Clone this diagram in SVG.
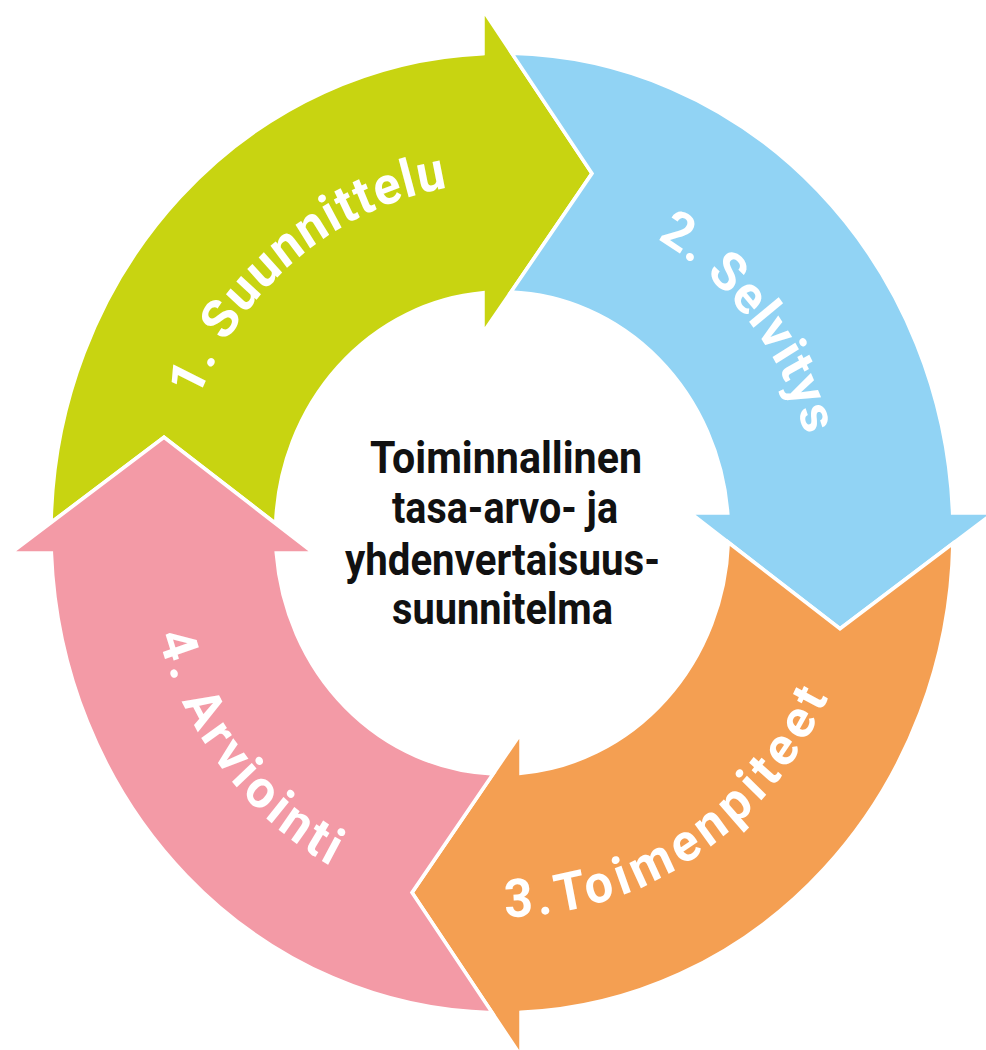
<svg xmlns="http://www.w3.org/2000/svg" xmlns:xlink="http://www.w3.org/1999/xlink" width="986" height="1050" viewBox="0 0 986 1050">
<style>
.arrow{stroke:#ffffff;stroke-width:3.5;stroke-linejoin:miter}
.lbl{font-family:Roboto,"Liberation Sans",sans-serif;font-weight:700;font-size:50px;fill:#ffffff}
.ctr{font-family:Roboto,"Liberation Sans",sans-serif;font-weight:700;font-size:42px;fill:#111111;text-anchor:middle}
</style>
<defs>
<path id="shape" d="M -450.9 -9.8 A 451 451 0 0 1 -19 -450.6 L -19 -491.5 L 90 -338 L -19 -188 L -19 -225.7 A 226.5 226.5 0 0 0 -226.3 -8.85 L -338 -90 Z"/>
<path id="p1" d="M -304.2 -125.4 A 329 329 0 0 1 85.1 -317.8"/>
<path id="p2" d="M 155.1 -276.5 A 317 317 0 0 1 317 0"/>
<path id="p3" d="M 3.2 361 A 361 361 0 0 0 355.5 62.7"/>
<path id="p4" d="M -343.8 96.3 A 357 357 0 0 0 -62 351.6"/>
</defs>
<rect width="986" height="1050" fill="#ffffff"/>
<g id="connectors"/>
<g transform="translate(502,533) scale(1,1.064)">
<g id="step1">
<use xlink:href="#shape" href="#shape" class="arrow" fill="#C8D411"/>
<text class="lbl" letter-spacing="1.5"><textPath xlink:href="#p1" href="#p1">1. Suunnittelu</textPath></text>
</g>
<g id="step2">
<use xlink:href="#shape" href="#shape" class="arrow" fill="#91D3F4" transform="rotate(90)"/>
<text class="lbl" letter-spacing="1"><textPath xlink:href="#p2" href="#p2">2. Selvitys</textPath></text>
</g>
<g id="step3">
<use xlink:href="#shape" href="#shape" class="arrow" fill="#F49F52" transform="rotate(180)"/>
<text class="lbl" letter-spacing="5"><textPath xlink:href="#p3" href="#p3">3.Toimenpiteet</textPath></text>
</g>
<g id="step4">
<use xlink:href="#shape" href="#shape" class="arrow" fill="#F39AA6" transform="rotate(270)"/>
<text class="lbl" letter-spacing="3.5"><textPath xlink:href="#p4" href="#p4">4. Arviointi</textPath></text>
</g>
<g id="center">
<text class="ctr" x="4" y="-56.4" textLength="272" lengthAdjust="spacingAndGlyphs">Toiminnallinen</text>
<text class="ctr" x="3" y="-9.4" textLength="226" lengthAdjust="spacingAndGlyphs">tasa-arvo- ja</text>
<text class="ctr" x="0.5" y="39.5" textLength="315" lengthAdjust="spacingAndGlyphs">yhdenvertaisuus-</text>
<text class="ctr" x="0.5" y="85.5" textLength="221" lengthAdjust="spacingAndGlyphs">suunnitelma</text>
</g>
</g>
</svg>
